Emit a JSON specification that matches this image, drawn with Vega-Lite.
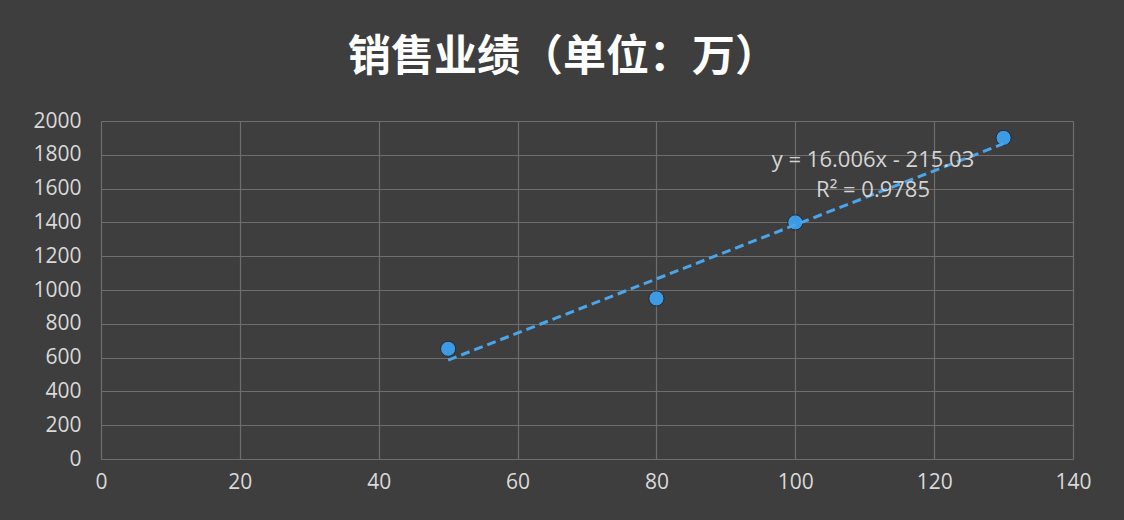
{
  "$schema": "https://vega.github.io/schema/vega-lite/v6.json",
  "autosize": {"type": "none"},
  "width": 972,
  "height": 338,
  "padding": {"left": 101, "top": 121, "right": 51, "bottom": 61},
  "background": "#3e3e3e",
  "config": {
    "view": {"stroke": null},
    "axis": {
      "gridColor": "#6e6e6e",
      "gridWidth": 1.2,
      "domain": false,
      "ticks": false,
      "labelColor": "#d9d9d9",
      "labelFont": "Open Sans",
      "labelFontSize": 21,
      "labelFlush": false,
      "labelBound": false,
      "labelOverlap": false,
      "format": "d",
      "title": null
    }
  },
  "title": {
    "text": "销售业绩（单位：万）",
    "font": "Noto Sans CJK SC",
    "fontWeight": "bold",
    "fontSize": 43,
    "letterSpacing": 2,
    "color": "#ffffff",
    "anchor": "middle",
    "dx": -24,
    "offset": 30
  },
  "datasets": {
    "sales": [
      {"x": 50, "y": 652},
      {"x": 80, "y": 950},
      {"x": 100, "y": 1400},
      {"x": 130, "y": 1900}
    ],
    "labels": [
      {"x": 111.2, "y": 1769, "t": "y = 16.006x - 215.03"},
      {"x": 111.2, "y": 1592, "t": "R² = 0.9785"}
    ]
  },
  "encoding": {
    "x": {"field": "x", "type": "quantitative", "scale": {"domain": [0, 140], "nice": false}, "axis": {"values": [0, 20, 40, 60, 80, 100, 120, 140], "labelPadding": 12}},
    "y": {"field": "y", "type": "quantitative", "scale": {"domain": [0, 2000], "nice": false}, "axis": {"tickCount": 10, "labelPadding": 20}}
  },
  "layer": [
    {
      "data": {"name": "sales"},
      "mark": {"type": "point", "filled": true, "size": 230, "color": "#3d9be3", "stroke": "#1f2a33", "strokeWidth": 1, "opacity": 1}
    },
    {
      "data": {"name": "sales"},
      "transform": [{"regression": "y", "on": "x"}],
      "mark": {"type": "line", "color": "#4aa5ea", "strokeWidth": 3, "strokeDash": [9, 5]}
    },
    {
      "data": {"name": "labels"},
      "mark": {"type": "text", "font": "Open Sans", "fontSize": 22, "color": "#d4d4d4", "align": "center", "baseline": "middle"},
      "encoding": {
        "text": {"field": "t"}
      }
    }
  ]
}
